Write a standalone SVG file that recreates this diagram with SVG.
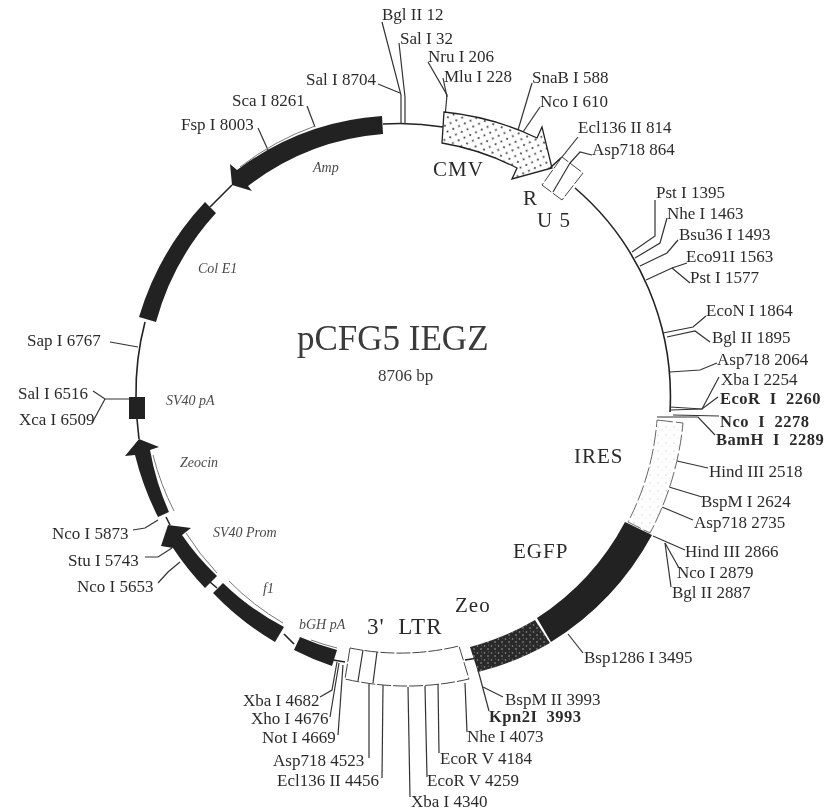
<svg xmlns="http://www.w3.org/2000/svg" width="833" height="811" viewBox="0 0 833 811">
<style>
text{font-family:"Liberation Serif","Times New Roman",serif;fill:#2c2c2c}
.l{font-size:17px}
.b{font-size:16.5px;font-weight:bold;letter-spacing:.5px}
.i{font-size:14px;font-style:italic;fill:#4a4a4a}
.f{font-size:21px;letter-spacing:1px}
.c{fill:none;stroke:#333;stroke-width:1.2}
.bb{fill:none;stroke:#222;stroke-width:1.6}
.k{fill:#222;stroke:none}
.h{fill:none;stroke:#777;stroke-width:1}
.d{fill:#fff;stroke:#444;stroke-width:1;stroke-dasharray:14 2}
</style>
<defs>
<pattern id="dots" width="9" height="9" patternUnits="userSpaceOnUse" patternTransform="rotate(20)"><rect width="9" height="9" fill="#fff"/><circle cx="2" cy="2" r="1" fill="#333"/><circle cx="6.5" cy="6.5" r="1" fill="#333"/></pattern>
<pattern id="speck" width="7" height="7" patternUnits="userSpaceOnUse"><rect width="7" height="7" fill="#2a2a2a"/><circle cx="1.5" cy="2" r=".8" fill="#999"/><circle cx="5" cy="5" r=".7" fill="#bbb"/><circle cx="5.5" cy="1" r=".5" fill="#777"/></pattern>
<pattern id="light" width="8" height="8" patternUnits="userSpaceOnUse"><rect width="8" height="8" fill="#fff"/><circle cx="2" cy="3" r=".7" fill="#ccc"/><circle cx="6" cy="6" r=".6" fill="#ddd"/></pattern>
<filter id="soft" x="-2%" y="-2%" width="104%" height="104%"><feGaussianBlur stdDeviation=".45"/></filter>
</defs>
<rect width="833" height="811" fill="#fff"/>
<g filter="url(#soft)">
<g id="backbone">
<path class="bb" d="M383 124A266.5 272 0 0 1 443 127"/>
<path class="bb" d="M575 188A266.5 272 0 0 1 670 412"/>
<path class="bb" d="M465 660L478 658"/>
<path class="bb" d="M345 662L333 660"/>
<path class="bb" d="M294 644L284 634"/>
<path class="bb" d="M217 588L210 582"/>
<path class="bb" d="M170 525L166 517"/>
<path class="bb" d="M137 419L139 439"/>
<path class="bb" d="M136 397A266.5 272 0 0 1 145 322"/>
<path class="bb" d="M210 207L232 185"/>
</g>
<g id="connectors">
<polyline class="c" points="382,22 401,95 401,124"/>
<polyline class="c" points="399,43 405,97 405,124"/>
<polyline class="c" points="378,84 400,93"/>
<polyline class="c" points="428,62 447,95 445,117"/>
<polyline class="c" points="443,78 447,97"/>
<polyline class="c" points="532,83 518,130"/>
<polyline class="c" points="540,107 523,132"/>
<polyline class="c" points="578,137 562,157"/>
<polyline class="c" points="592,155 580,152 570,163"/>
<polyline class="c" points="655,200 655,236 632,252"/>
<polyline class="c" points="667,218 660,243 635,258"/>
<polyline class="c" points="678,240 667,253 640,266"/>
<polyline class="c" points="687,263 672,268 646,280"/>
<polyline class="c" points="690,283 672,268"/>
<polyline class="c" points="706,316 693,327 663,333"/>
<polyline class="c" points="710,342 695,331 667,337"/>
<polyline class="c" points="717,363 700,370 670,372"/>
<polyline class="c" points="719,377 702,409 670,407"/>
<polyline class="c" points="718,397 702,409 670,410"/>
<polyline class="c" points="719,416 673,415"/>
<polyline class="c" points="715,435 698,417 657,417"/>
<polyline class="c" points="708,468 677,461"/>
<polyline class="c" points="702,497 669,487"/>
<polyline class="c" points="693,520 662,507"/>
<polyline class="c" points="685,550 653,536"/>
<polyline class="c" points="679,568 665,543"/>
<polyline class="c" points="671,587 665,543"/>
<polyline class="c" points="583,653 568,634"/>
<polyline class="c" points="503,697 483,687"/>
<polyline class="c" points="489,711 478,670"/>
<polyline class="c" points="467,732 465,683"/>
<polyline class="c" points="439,753 438,684"/>
<polyline class="c" points="427,777 425,686"/>
<polyline class="c" points="410,797 408,687"/>
<polyline class="c" points="382,778 383,685"/>
<polyline class="c" points="369,758 369,683"/>
<polyline class="c" points="338,735 343,665"/>
<polyline class="c" points="330,717 339,663"/>
<polyline class="c" points="320,697 332,690 337,662"/>
<polyline class="c" points="158,583 168,572 180,562"/>
<polyline class="c" points="145,557 158,557 172,548"/>
<polyline class="c" points="133,530 145,528 158,520"/>
<polyline class="c" points="110,342 138,347"/>
<polyline class="c" points="93,391 105,399 129,399"/>
<polyline class="c" points="92,423 105,399"/>
<polyline class="c" points="307,106 315,127"/>
<polyline class="c" points="258,128 268,150"/>
</g>
<g id="cmv">
<path d="M444 112L442 143A257 262 0 0 1 517 168L512 179L552 168L542 127L537 138A280 286 0 0 0 444 112Z" fill="url(#dots)" stroke="#222" stroke-width="1.3"/>
<text class="f" x="433" y="176">CMV</text>
</g>
<g id="r-u5">
<path class="bb" d="M550 168L562 157"/>
<path class="d" d="M562 157L542 185L562 200L583 173Z"/>
<path class="c" d="M570 163L553 192"/>
<text class="f" x="523" y="205">R</text>
<text class="f" x="537" y="227">U 5</text>
</g>
<g id="ires">
<path d="M657 420L683 423A282 288 0 0 1 650 533L628 522A255 260 0 0 0 657 420Z" fill="url(#light)" stroke="#555" stroke-width=".9" stroke-dasharray="16 3"/>
<text class="f" x="574" y="463">IRES</text>
</g>
<g id="egfp">
<path class="k" d="M625 522L652 535A282 288 0 0 1 551 642L537 618A255 260 0 0 0 625 522Z"/>
<text class="f" x="513" y="558">EGFP</text>
</g>
<g id="zeo">
<path d="M470 647L478 672A282 288 0 0 0 550 643L535 620A255 260 0 0 1 470 647Z" fill="url(#speck)"/>
<text class="f" x="455" y="612">Zeo</text>
</g>
<g id="ltr3">
<path class="d" d="M350 648L345 679A282 288 0 0 0 469 679L459 646A255 262 0 0 1 350 648Z"/>
<path class="c" d="M363 650L358 681M377 652L373 683"/>
<text class="f" x="367" y="634" style="font-size:23px">3'&#160; LTR</text>
</g>
<g id="bgh">
<path class="k" d="M294 650L300 637A255 262 0 0 0 337 650L332 666A282 288 0 0 1 294 650Z"/>
<path class="h" d="M311 640A255 262 0 0 0 337 648"/>
<text class="i" x="299" y="629">bGH pA</text>
</g>
<g id="f1">
<path class="k" d="M213 593L223 583A255 262 0 0 0 284 627L275 642A282 288 0 0 1 213 593Z"/>
<path class="h" d="M229 581A255 262 0 0 0 283 623"/>
<text class="i" x="263" y="593">f1</text>
</g>
<g id="sv40prom">
<path class="k" d="M168 525L161 546L173 548A282 288 0 0 0 205 588L217 576A255 262 0 0 1 182 535L191 528Z"/>
<path class="h" d="M186 533A255 262 0 0 0 217 573"/>
<text class="i" x="213" y="537">SV40 Prom</text>
</g>
<g id="zeocin">
<path class="k" d="M139 439L125 456L135 455A282 288 0 0 0 158 517L169 512A255 262 0 0 1 150 450L159 447Z"/>
<path class="h" d="M153 455A255 262 0 0 0 174 511"/>
<text class="i" x="180" y="467">Zeocin</text>
</g>
<g id="sv40pa">
<rect class="k" x="129" y="397" width="16" height="22"/>
<text class="i" x="166" y="405">SV40 pA</text>
</g>
<g id="cole1">
<path class="k" d="M205 202L216 213A255 262 0 0 0 156 322L139 317A282 288 0 0 1 205 202Z"/>
<text class="i" x="198" y="273">Col E1</text>
</g>
<g id="amp">
<path class="k" d="M382 116L383 134A258 264 0 0 0 248 186L252 191L232 185L230 164L237 170A275 281 0 0 1 382 116Z"/>
<path class="h" d="M240 167A275 281 0 0 1 315 126"/>
<text class="i" x="313" y="172">Amp</text>
</g>
<g id="title">
<text x="297" y="350" style="font-size:35px;fill:#3a3a3a">pCFG5 IEGZ</text>
<text x="378" y="381" style="font-size:17px;fill:#3a3a3a">8706 bp</text>
</g>
<g id="sites">
<text class="l" x="382" y="20">Bgl II 12</text>
<text class="l" x="400" y="44">Sal I 32</text>
<text class="l" x="428" y="62">Nru I 206</text>
<text class="l" x="444" y="82">Mlu I 228</text>
<text class="l" x="532" y="83">SnaB I 588</text>
<text class="l" x="540" y="107">Nco I 610</text>
<text class="l" x="578" y="133">Ecl136 II 814</text>
<text class="l" x="592" y="155">Asp718 864</text>
<text class="l" x="306" y="85">Sal I 8704</text>
<text class="l" x="232" y="106">Sca I 8261</text>
<text class="l" x="181" y="130">Fsp I 8003</text>
<text class="l" x="656" y="198">Pst I 1395</text>
<text class="l" x="667" y="219">Nhe I 1463</text>
<text class="l" x="679" y="240">Bsu36 I 1493</text>
<text class="l" x="686" y="262">Eco91I 1563</text>
<text class="l" x="690" y="283">Pst I 1577</text>
<text class="l" x="706" y="316">EcoN I 1864</text>
<text class="l" x="712" y="343">Bgl II 1895</text>
<text class="l" x="717" y="365">Asp718 2064</text>
<text class="l" x="721" y="385">Xba I 2254</text>
<text class="b" x="720" y="404">EcoR&#160; I&#160; 2260</text>
<text class="b" x="720" y="427">Nco&#160; I&#160; 2278</text>
<text class="b" x="716" y="445">BamH&#160; I&#160; 2289</text>
<text class="l" x="709" y="477">Hind III 2518</text>
<text class="l" x="701" y="507">BspM I 2624</text>
<text class="l" x="694" y="528">Asp718 2735</text>
<text class="l" x="685" y="557">Hind III 2866</text>
<text class="l" x="677" y="578">Nco I 2879</text>
<text class="l" x="672" y="598">Bgl II 2887</text>
<text class="l" x="584" y="663">Bsp1286 I 3495</text>
<text class="l" x="505" y="705">BspM II 3993</text>
<text class="b" x="489" y="722">Kpn2I&#160; 3993</text>
<text class="l" x="467" y="742">Nhe I 4073</text>
<text class="l" x="440" y="764">EcoR V 4184</text>
<text class="l" x="427" y="786">EcoR V 4259</text>
<text class="l" x="411" y="807">Xba I 4340</text>
<text class="l" x="277" y="786">Ecl136 II 4456</text>
<text class="l" x="273" y="766">Asp718 4523</text>
<text class="l" x="262" y="743">Not I 4669</text>
<text class="l" x="251" y="724">Xho I 4676</text>
<text class="l" x="243" y="706">Xba I 4682</text>
<text class="l" x="77" y="592">Nco I 5653</text>
<text class="l" x="68" y="566">Stu I 5743</text>
<text class="l" x="52" y="539">Nco I 5873</text>
<text class="l" x="27" y="346">Sap I 6767</text>
<text class="l" x="18" y="399">Sal I 6516</text>
<text class="l" x="19" y="425">Xca I 6509</text>
</g>
</g>
</svg>
